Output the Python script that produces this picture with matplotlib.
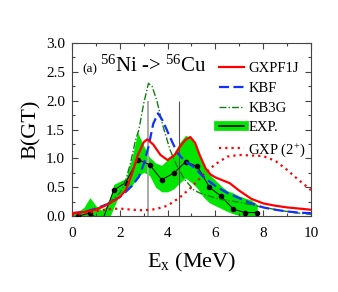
import matplotlib
matplotlib.use("Agg")
import matplotlib.pyplot as plt
from matplotlib.lines import Line2D

# GXPF1J (red solid)
gx_x = [0, 0.5, 1, 1.5, 2, 2.25, 2.5, 2.75, 3.0, 3.15, 3.4, 3.7, 4.0, 4.3, 4.55, 4.75,
        4.95, 5.15, 5.35, 5.6, 5.8, 6.0, 6.3, 6.6, 7.0, 7.5, 8.0, 8.5, 9.0, 9.5, 10]
gx_y = [0.05, 0.07, 0.11, 0.2, 0.33, 0.45, 0.72, 1.05, 1.28, 1.33, 1.24, 1.06, 0.97, 1.06,
        1.22, 1.32, 1.37, 1.27, 1.05, 0.82, 0.72, 0.67, 0.62, 0.57, 0.44, 0.3, 0.22, 0.18,
        0.15, 0.13, 0.11]

# KBF (blue dashed)
kbf_x = [0, 0.5, 1, 1.5, 2, 2.25, 2.5, 2.8, 3.0, 3.2, 3.4, 3.6, 3.8, 4.1, 4.4, 4.7, 5.1,
         5.5, 6.0, 6.5, 7.0, 7.5, 8.0, 8.5, 9.0, 9.5, 10]
kbf_y = [0.05, 0.07, 0.13, 0.21, 0.33, 0.42, 0.52, 0.68, 0.9, 1.2, 1.6, 1.78, 1.65, 1.37,
         1.1, 0.96, 0.85, 0.68, 0.52, 0.4, 0.31, 0.22, 0.15, 0.11, 0.08, 0.06, 0.05]

# KB3G (green dash-dot)
kb3_x = [0, 0.5, 1, 1.5, 2, 2.2, 2.45, 2.65, 2.8, 3.0, 3.2, 3.35, 3.55, 3.8, 4.1, 4.4,
         4.7, 5.1, 5.4, 6.2, 7.0, 7.9, 8.7, 9.3, 10]
kb3_y = [0.05, 0.07, 0.12, 0.22, 0.4, 0.55, 0.92, 1.3, 1.5, 1.95, 2.3, 2.25, 2.0, 1.57,
         1.15, 0.86, 0.64, 0.45, 0.39, 0.29, 0.24, 0.16, 0.1, 0.06, 0.03]

# GXP (2+) (red dotted)
gxp2_x = [0, 0.5, 1, 1.5, 2, 2.5, 3, 3.5, 4, 4.5, 5, 5.5, 6, 6.5, 7, 7.5, 8, 8.5, 9, 9.5, 10]
gxp2_y = [0.02, 0.04, 0.08, 0.12, 0.13, 0.11, 0.1, 0.12, 0.18, 0.32, 0.5, 0.72, 0.9, 1.03,
          1.06, 1.05, 1.04, 0.96, 0.8, 0.62, 0.45]

# experiment
exp_x = [0.25, 0.75, 1.25, 1.75, 2.25, 2.75, 3.25, 3.75, 4.25, 4.75, 5.25, 5.75, 6.25,
         6.75, 7.25, 7.75]
exp_y = [0.0, 0.05, -0.1, 0.45, 0.58, 0.98, 0.89, 0.63, 0.74, 0.94, 0.86, 0.5, 0.34,
         0.12, 0.06, 0.06]

band_x = [0, 0.25, 0.5, 0.75, 1.0, 1.25, 1.5, 1.75, 2.0, 2.25, 2.5, 2.75, 3.0, 3.25, 3.5,
          3.75, 4.0, 4.25, 4.5, 4.75, 5.0, 5.25, 5.5, 5.75, 6.0, 6.25, 6.5, 6.75, 7.0,
          7.25, 7.5, 7.75]
band_hi = [0.05, 0.08, 0.15, 0.32, 0.18, 0.1, 0.2, 0.55, 0.6, 0.65, 1.0, 1.45, 1.22, 1.02,
           0.92, 0.88, 0.98, 1.08, 1.27, 1.4, 1.35, 1.15, 0.88, 0.72, 0.62, 0.52, 0.44, 0.4,
           0.35, 0.31, 0.28, 0.2]
band_lo = [0.0, -0.05, -0.05, 0.0, -0.05, -0.15, -0.1, 0.15, 0.38, 0.43, 0.52, 0.68, 0.76,
           0.7, 0.5, 0.42, 0.42, 0.47, 0.57, 0.66, 0.58, 0.48, 0.33, 0.23, 0.18, 0.13, 0.08,
           0.04, 0.01, 0.0, -0.02, -0.05]

# levels marked by vertical lines
lev_x = [3.17, 4.48]
lev_h = 2.0

plt.rcParams["font.family"] = ["Liberation Serif", "DejaVu Serif"]
plt.rcParams["mathtext.default"] = "regular"

fig = plt.figure(figsize=(3.38, 2.92), dpi=100)
ax = fig.add_axes([0.213, 0.260, 0.707, 0.593])

green = "#00e600"
ax.fill_between(band_x, band_lo, band_hi, color=green, lw=0, zorder=1)
ax.vlines(lev_x[0], 0, lev_h, color="#aaaaaa", lw=1.4, zorder=2)
ax.vlines(lev_x[1], 0, lev_h, color="#555555", lw=0.8, zorder=2)
ax.plot(exp_x, exp_y, color="black", lw=0.7, marker="o", ms=3, zorder=3)
ax.plot(gxp2_x, gxp2_y, color="red", lw=1.6, ls=(0, (1, 1.8)), zorder=4)
ax.plot(kb3_x, kb3_y, color="#108010", lw=1.0, ls=(0, (5, 1.5, 1, 1.5)), zorder=4)
ax.plot(kbf_x, kbf_y, color="#1030ff", lw=1.6, ls=(0, (4.5, 2)), zorder=5)
ax.plot(gx_x, gx_y, color="red", lw=1.6, zorder=6)

ax.set_xlim(0, 10)
ax.set_ylim(0, 3.0)
ax.set_xticks([0, 2, 4, 6, 8, 10])
ax.set_xticks([1, 3, 5, 7, 9], minor=True)
ax.set_yticks([0, 0.5, 1.0, 1.5, 2.0, 2.5, 3.0])
ax.set_yticklabels(["0.0", "0.5", "1.0", "1.5", "2.0", "2.5", "3.0"])
ax.set_yticks([0.25, 0.75, 1.25, 1.75, 2.25, 2.75], minor=True)
ax.tick_params(which="both", direction="in", top=True, right=True, labelsize=11,
               color="#444444")
ax.tick_params(which="major", length=4, width=0.8)
ax.tick_params(which="minor", length=2.5, width=0.8)
ax.tick_params(axis="y", pad=5)
ax.tick_params(axis="x", pad=8)
for s in ax.spines.values():
    s.set_color("#444444")
    s.set_linewidth(0.8)

ax.set_xlabel("E$_x$ (MeV)", fontsize=16, labelpad=8)
ax.set_ylabel("B(GT)", fontsize=16, labelpad=4)

ax.text(0.42, 2.5, "(a)", fontsize=9.5)
ax.text(1.17, 2.5, "$^{56}$Ni -> $^{56}$Cu", fontsize=15)

exp_handle = (Line2D([], [], color=green, lw=7), Line2D([], [], color="black", lw=1.2))
handles = [
    Line2D([], [], color="red", lw=1.6),
    Line2D([], [], color="#1030ff", lw=1.6, ls=(0, (4.5, 2))),
    Line2D([], [], color="#108010", lw=1.0, ls=(0, (5, 1.5, 1, 1.5))),
    exp_handle,
    Line2D([], [], color="red", lw=1.6, ls=(0, (1, 1.8))),
]
labels = ["GXPF1J", "KBF", "KB3G", "EXP.", "GXP (2$^{+}$)"]
ax.legend(handles, labels, loc="upper left", bbox_to_anchor=(0.615, 0.89),
          frameon=False, fontsize=10.5, handlelength=1.7, handletextpad=0.3,
          labelspacing=0.45, borderpad=0, borderaxespad=0)

fig.savefig("out.png", dpi=100)
